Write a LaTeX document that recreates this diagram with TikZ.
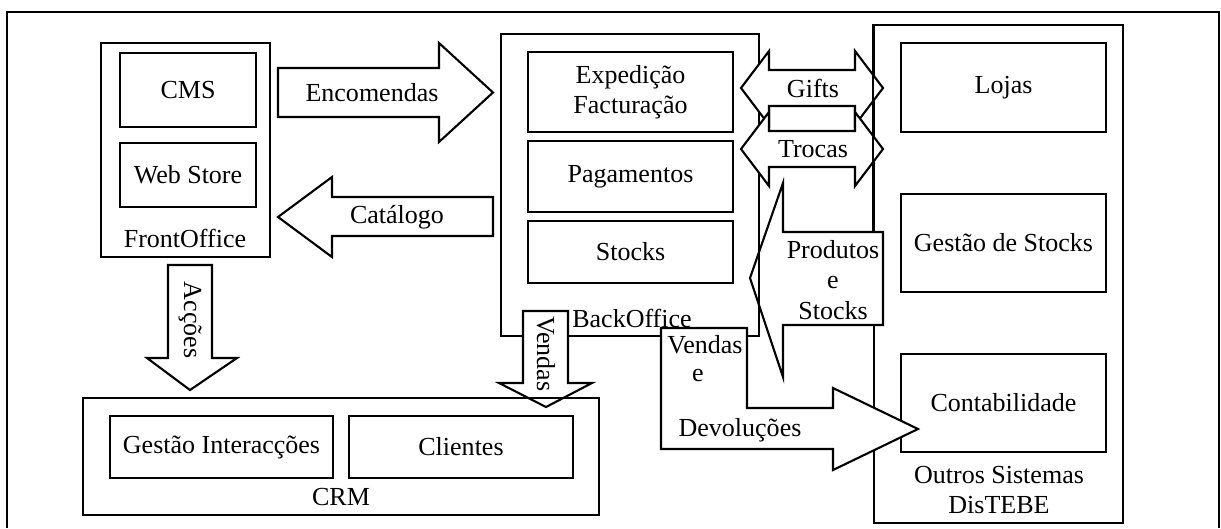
\documentclass[tikz,border=0pt]{standalone}
\usepackage{fontspec}
\setmainfont{Liberation Serif}

\begin{document}
\begin{tikzpicture}[
    x=0.025cm, y=-0.025cm,
    font=\fontsize{18.5}{21.5}\selectfont,
    container/.style={draw, line width=1.5pt, inner sep=0pt},
    box/.style={container, align=center},
    blockarrow/.style={draw, fill=white, line width=1.5pt, line join=miter},
    lbl/.style={inner sep=0pt, align=center}
]
\useasboundingbox (0,0) rectangle (1221,528);

% --- outer frame ---
\draw[line width=1pt] (7,528) |- (1219,12) -- (1219,528);

% --- FrontOffice ---
\node[container, minimum width=4.225cm, minimum height=5.35cm] (front) at (185.5,150) {};
\node[box, minimum width=3.4cm, minimum height=1.85cm] (cms) at (188,90) {CMS};
\node[box, minimum width=3.4cm, minimum height=1.6cm] (webstore) at (188,175) {Web Store};
\node[lbl] (frontlbl) at (185,238) {FrontOffice};

% --- Outros Sistemas ---
\node[container, minimum width=6.225cm, minimum height=12.45cm] (outros) at (998.5,274) {};
\node[box, minimum width=5.125cm, minimum height=2.225cm] (lojas) at (1003.5,87.5) {Lojas};
\node[box, minimum width=5.125cm, minimum height=2.45cm] (gstocks) at (1003.5,243) {Gestão de Stocks};
\node[box, minimum width=5.125cm, minimum height=2.45cm] (contab) at (1003.5,403) {Contabilidade};
\node[lbl] (outroslbl) at (999,490) {Outros Sistemas\\DisTEBE};

% --- Produtos e Stocks (towards BackOffice) ---
\coordinate (prodtop) at (883,232);
\draw[blockarrow] (prodtop) -- (783,232) -- (783,183) -- (750,278) -- (783,377) -- (783,325) -- (883,325) -- cycle;
\node[lbl] (produtos) at (833,280) {Produtos\\e\\Stocks};

% --- BackOffice ---
\node[container, minimum width=6.45cm, minimum height=7.55cm] (back) at (630,185) {};
\node[box, minimum width=5.125cm, minimum height=2.0cm] (exped) at (630.5,92) {Expedição\\Facturação};
\node[box, minimum width=5.125cm, minimum height=1.775cm] (pagam) at (630.5,176.5) {Pagamentos};
\node[box, minimum width=5.125cm, minimum height=1.55cm] (stocks) at (630.5,252) {Stocks};
\node[lbl] (backlbl) at (632,318) {BackOffice};

% --- Gifts / Trocas (both ways) ---
\foreach \cy/\nm/\txt in {88/gifts/Gifts, 149/trocas/Trocas} {
    \draw[blockarrow] (741,\cy) -- (769,{\cy-37}) -- (769,{\cy-18}) -- (855,{\cy-18}) -- (855,{\cy-37})
        -- (883,\cy) -- (855,{\cy+37}) -- (855,{\cy+18}) -- (769,{\cy+18}) -- (769,{\cy+37}) -- cycle;
    \node[lbl] (\nm) at (813,\cy) {\txt};
}
\draw[line width=1.5pt] (outros.north west) -- (outros.north west |- prodtop);

% --- Vendas e Devolucoes ---
\draw[blockarrow] (661,328) -- (747,328) -- (747,408) -- (833,408) -- (833,388) -- (918,429)
    -- (833,470) -- (833,449) -- (661,449) -- cycle;
\node[lbl] (vendasa) at (705,345) {Vendas};
\node[lbl] (vendase) at (698,375) {e};
\node[lbl] (devol) at (740,430) {Devoluções};

% --- Encomendas / Catalogo ---
\draw[blockarrow] (278,68) -- (439,68) -- (439,43) -- (493,92.5) -- (439,142) -- (439,117) -- (278,117) -- cycle;
\node[lbl] (encom) at (372,93) {Encomendas};
\draw[blockarrow] (493,197) -- (332,197) -- (332,177) -- (278,217) -- (332,257) -- (332,236) -- (493,236) -- cycle;
\node[lbl] (catalogo) at (397,217) {Catálogo};

% --- down to CRM ---
\draw[blockarrow] (168,265) -- (212,265) -- (212,358) -- (237,358) -- (190,390) -- (147,358) -- (168,358) -- cycle;
\node[lbl, rotate=-90] (accoes) at (190,320) {Acções};
\draw[blockarrow] (523,311) -- (568,311) -- (568,383) -- (592,383) -- (546,407) -- (499,383) -- (523,383) -- cycle;
\node[lbl, rotate=-90] (vendasdn) at (546,354) {Vendas};

% --- CRM ---
\node[container, minimum width=12.9cm, minimum height=2.925cm] (crm) at (341,456.5) {};
\node[box, minimum width=5.575cm, minimum height=1.55cm] (gint) at (221.5,447) {Gestão Interacções};
\node[box, minimum width=5.6cm, minimum height=1.55cm] (clientes) at (461,447) {Clientes};
\node[lbl] (crmlbl) at (341,497) {CRM};

\end{tikzpicture}
\end{document}
